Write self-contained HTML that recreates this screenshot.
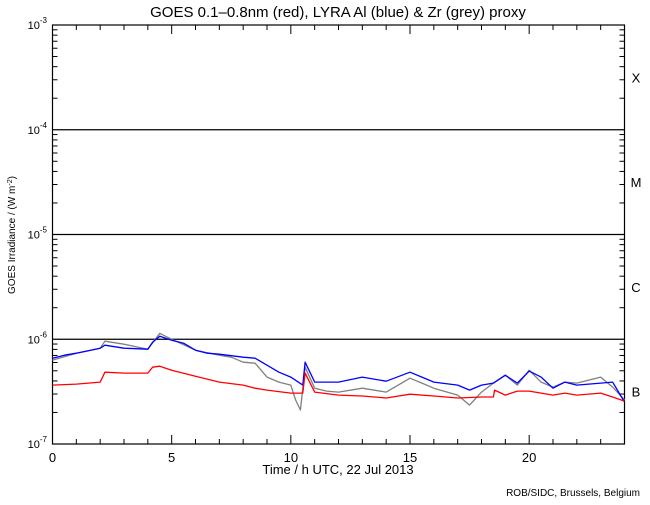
<!DOCTYPE html>
<html><head><meta charset="utf-8"><style>
body{margin:0;background:#fff}
svg text{font-family:"Liberation Sans",sans-serif;fill:#000}
</style></head><body>
<svg id="chart" width="650" height="500" viewBox="0 0 650 500" xmlns="http://www.w3.org/2000/svg">
<rect width="650" height="500" fill="#fff"/>
<text x="338" y="17" font-size="15" text-anchor="middle">GOES 0.1–0.8nm (red), LYRA Al (blue) &amp; Zr (grey) proxy</text>
<text transform="translate(15,235) rotate(-90)" font-size="10" text-anchor="middle">GOES Irradiance / (W m<tspan baseline-shift="super" font-size="7">-2</tspan>)</text>
<text x="338" y="474" font-size="13" text-anchor="middle">Time / h UTC, 22 Jul 2013</text>
<text x="640" y="496" font-size="10" text-anchor="end">ROB/SIDC, Brussels, Belgium</text>
<g id="axes"></g>
<g id="series"></g>
</svg>
<script>
const redT=[0,1,2,2.2,3,4,4.2,4.5,5,6,7,8,8.5,9,10,10.5,10.6,11,12,13,14,15,16,17,18,18.5,18.55,19,19.5,20,21,21.5,22,23,23.5,24];
const redV=[3.65,3.73,3.90,4.85,4.75,4.75,5.41,5.53,5.07,4.44,3.90,3.65,3.41,3.27,3.06,3.06,4.75,3.13,2.93,2.87,2.75,2.99,2.87,2.75,2.81,2.81,3.27,2.93,3.20,3.20,2.93,3.06,2.93,3.06,2.81,2.57];
const blueT=[0,0.5,1,2,2.2,3,4,4.2,4.5,5,5.5,6,6.5,7,8,8.5,9,9.5,10,10.5,10.6,11,12,13,14,15,15.5,16,17,17.5,18,18.5,19,19.5,20,20.5,21,21.5,22,23,23.5,24];
const blueV=[6.60,7.04,7.36,8.21,8.77,8.21,8.03,9.36,10.7,9.78,9.16,7.86,7.36,7.20,6.74,6.60,5.65,4.85,4.35,3.65,6.04,3.90,3.90,4.35,3.98,4.85,4.35,3.90,3.65,3.27,3.65,3.81,4.54,3.81,4.96,4.35,3.41,3.90,3.65,3.81,3.90,2.52];
const greyT=[0,1,2,2.2,3,4,4.5,5,6,7,7.5,8,8.5,9,9.5,10,10.2,10.4,10.6,11,11.5,12,13,14,15,15.5,16,17,17.5,18,18.5,19,19.5,20,20.5,21,21.5,22,23,23.5,24];
const greyV=[6.32,7.36,8.21,9.57,8.96,8.03,11.4,10,7.86,7.04,6.74,6.04,5.91,4.35,3.90,3.65,2.63,2.11,5.41,3.41,3.20,3.13,3.41,3.13,4.25,3.81,3.41,2.93,2.35,3.13,3.81,4.54,3.65,5.07,3.90,3.49,3.90,3.81,4.35,3.49,2.63];
const UNIT=1e-7;
const xTicks=[0,5,10,15,20];
const decades=[-3,-4,-5,-6,-7];
const classes=["X","M","C","B"];

const L=52.5,R=624.5,T=25,B=444;
const X=t=>L+(R-L)*t/24;
const Y=v=>T+(-3-Math.log10(v))*(B-T)/4;
const NS="http://www.w3.org/2000/svg";
function mk(tag,attrs,parent){const e=document.createElementNS(NS,tag);for(const k in attrs)e.setAttribute(k,attrs[k]);parent.appendChild(e);return e;}
const ax=document.getElementById('axes');
const frame=mk('rect',{x:L,y:T,width:R-L,height:B-T,fill:'none',stroke:'#000','stroke-width':1.2},ax);


for(let h=0;h<=24;h++){
  const len=(h%5===0)?9:5;
  const t1=mk('line',{x1:X(h),x2:X(h),y1:B,y2:B-len,stroke:'#000'},ax);
  
  
  const t2=mk('line',{x1:X(h),x2:X(h),y1:T,y2:T+len,stroke:'#000'},ax);
  
  
}
xTicks.forEach(h=>{
  const tx=mk('text',{x:X(h),y:462,'font-size':13,'text-anchor':'middle'},ax);
  tx.textContent=h;
  
  
});
decades.forEach((d,i)=>{
  const y=Y(Math.pow(10,d));
  if(d<-3&&d>-7){
    const gl=mk('line',{x1:L,x2:R,y1:y,y2:y,stroke:'#000','stroke-width':1.2},ax);
    
    
  }
  const lb=mk('text',{x:47,y:y+4,'font-size':11,'text-anchor':'end'},ax);
  lb.innerHTML='10<tspan font-size="8" dy="-6">'+d+'</tspan>';
  
  
  if(d>-7){
    for(let m=2;m<=9;m++){
      const ym=Y(m*Math.pow(10,d-1));
      const a=mk('line',{x1:L,x2:L+5,y1:ym,y2:ym,stroke:'#000'},ax);
      
      
      const b=mk('line',{x1:R,x2:R-5,y1:ym,y2:ym,stroke:'#000'},ax);
      
      
    }
  }
});
classes.forEach((c,i)=>{
  const y=(Y(Math.pow(10,-3-i))+Y(Math.pow(10,-4-i)))/2;
  const tx=mk('text',{x:636,y:y+5,'font-size':13,'text-anchor':'middle'},ax);
  tx.textContent=c;
  
  
});
const sg=document.getElementById('series');
function line(ts,vs,col,name){
  const pts=ts.map((t,i)=>X(t).toFixed(1)+','+Y(vs[i]*UNIT).toFixed(1)).join(' ');
  const p=mk('polyline',{points:pts,fill:'none',stroke:col,'stroke-width':1.3,'stroke-linejoin':'round'},sg);
  
  
}
line(greyT,greyV,'#808080','zr-proxy-grey-line');
line(blueT,blueV,'#0000ff','al-proxy-blue-line');
line(redT,redV,'#ff0000','goes-red-line');
</script>
</body></html>
